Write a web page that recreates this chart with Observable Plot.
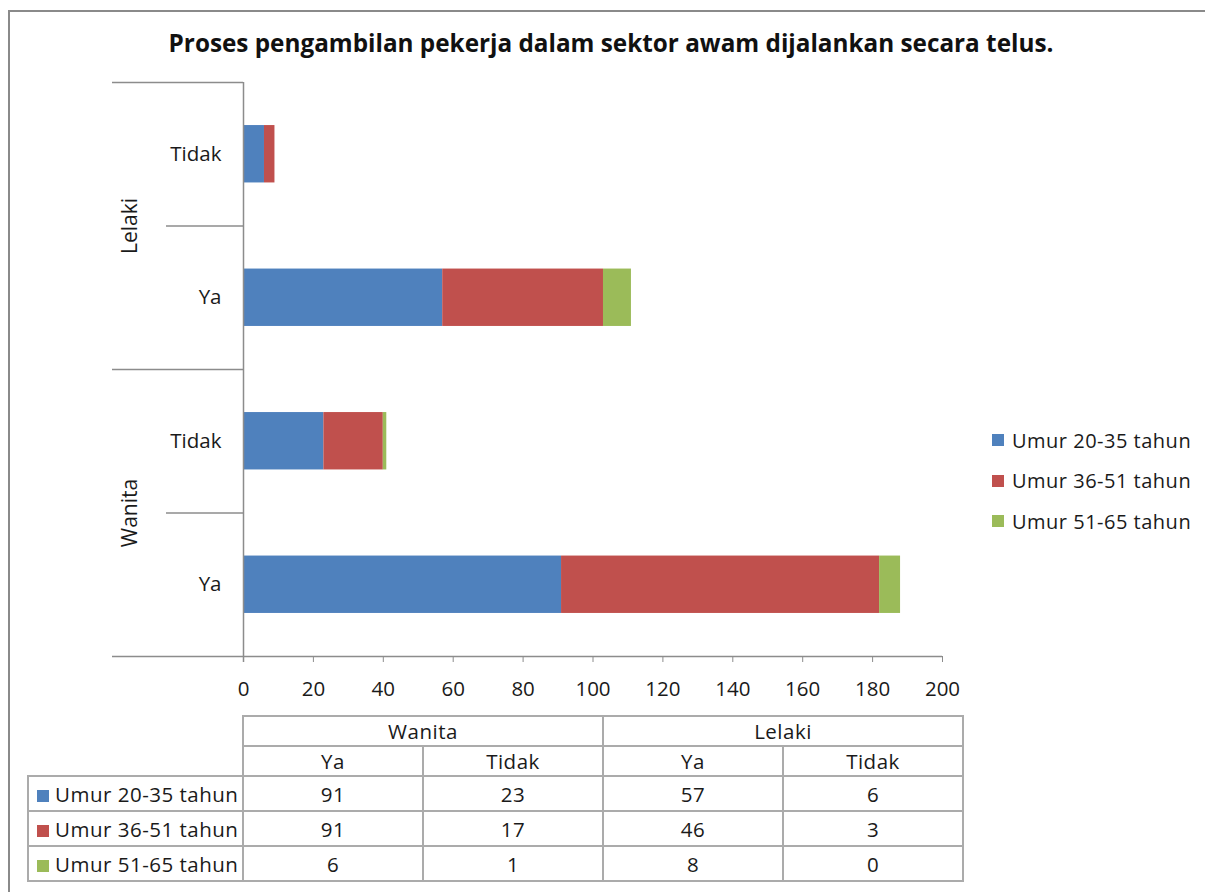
<!DOCTYPE html>
<html>
<head>
<meta charset="utf-8">
<script src="https://cdn.jsdelivr.net/npm/d3@7"></script>
<script src="https://cdn.jsdelivr.net/npm/@observablehq/plot@0.6"></script>
<style>
  body { margin: 0; background: #fff; font-family: "Open Sans", sans-serif; color: #1a1a1a; }
  #frame { position: absolute; left: 8px; top: 10px; width: 1400px; height: 1000px;
           border-left: 2px solid #8a8a8a; border-top: 2px solid #8a8a8a; box-sizing: border-box; }
  #title { position: absolute; left: 0; top: 26px; width: 1222px; text-align: center;
           font-weight: 700; font-size: 24.3px; color: #111; }
  #chart { position: absolute; left: 0; top: 70px; }
  #chart text { fill: #1a1a1a; }
  #legend { position: absolute; left: 992px; top: 420px; font-size: 20px; letter-spacing: 0.5px; }
  #legend .item { display: flex; align-items: center; height: 40.5px; }
  #legend .sw { width: 12px; height: 12px; margin-right: 8px; }
  #table { position: absolute; left: 27px; top: 715px; border-collapse: collapse;
           font-size: 20.5px; letter-spacing: 0.5px; }
  #table td { border: 2px solid #ababab; text-align: center; padding: 0; }
  #table td.empty { border: none; border-right: 2px solid #ababab; border-bottom: 2px solid #ababab; }
  #table tr.h td { height: 28px; }
  #table tr.d td { height: 33px; }
  #table td.lab { text-align: left; padding-left: 8px; white-space: nowrap; }
  #table td.lab span.sw { display: inline-block; width: 12px; height: 12px; margin-right: 6px; vertical-align: 0px; }
</style>
</head>
<body>
<div id="frame"></div>
<div id="title"></div>
<div id="chart"></div>
<div id="legend"></div>
<table id="table"></table>
<script>
// ---- data ----
const title = "Proses pengambilan pekerja dalam sektor awam dijalankan secara telus.";
const colGroup  = ["Wanita", "Wanita", "Lelaki", "Lelaki"];
const colAnswer = ["Ya", "Tidak", "Ya", "Tidak"];
const groupNames = ["Wanita", "Lelaki"];
const seriesNames = ["Umur 20-35 tahun", "Umur 36-51 tahun", "Umur 51-65 tahun"];
const age20_35 = [91, 23, 57, 6];
const age36_51 = [91, 17, 46, 3];
const age51_65 = [6, 1, 8, 0];
const seriesColors = ["#4F81BD", "#C0504D", "#9BBB59"];
const xTicks = [0, 20, 40, 60, 80, 100, 120, 140, 160, 180, 200];

// ---- derived tables ----
const seriesValues = [age20_35, age36_51, age51_65];
const keys = colGroup.map((g, j) => `${g}|${colAnswer[j]}`);
const yDomain = keys.slice().reverse();
const rows = [];
seriesNames.forEach((s, k) => keys.forEach((key, j) => rows.push({key, series: s, value: seriesValues[k][j]})));

document.getElementById("title").textContent = title;

// ---- chart ----
const W = 1205, H = 635, mt = 12, mb = 49, ml = 243, mr = 263;
const step = (H - mt - mb) / yDomain.length;
const lineColor = "#8c8c8c";

const chart = Plot.plot({
  width: W, height: H,
  marginTop: mt, marginBottom: mb, marginLeft: ml, marginRight: mr,
  style: {fontFamily: "Open Sans, sans-serif", fontSize: "20.5px", color: lineColor, background: "transparent", overflow: "visible"},
  x: {domain: [0, 200], ticks: xTicks, tickSize: 6, tickPadding: 19, label: null, tickFormat: d => String(d)},
  y: {domain: yDomain, paddingInner: 0.6, paddingOuter: 0.3, round: false,
      tickSize: 0, tickPadding: 22, label: null, tickFormat: k => k.split("|")[1]},
  color: {domain: seriesNames, range: seriesColors},
  marks: [
    Plot.barX(rows, Plot.stackX({y: "key", x: "value", fill: "series", order: null})),
    // long separators (group boundaries)
    Plot.ruleY(yDomain.filter(k => k.endsWith("|Tidak")), {y: d => d, dy: -step / 2, x2: () => 0, insetLeft: -(ml - 112), stroke: lineColor, strokeWidth: 1.5}),
    // short separators (within group)
    Plot.ruleY(yDomain.filter(k => k.endsWith("|Ya")), {y: d => d, dy: -step / 2, x2: () => 0, insetLeft: -(ml - 166), stroke: lineColor, strokeWidth: 1.5}),
    // bottom axis line
    Plot.ruleY([yDomain[yDomain.length - 1]], {y: d => d, dy: step / 2, insetLeft: -(ml - 112), stroke: lineColor, strokeWidth: 1.5}),
    // vertical axis line
    Plot.ruleX([0], {x: d => d, insetBottom: -6, stroke: lineColor, strokeWidth: 1.5}),
    // group labels
    Plot.text(groupNames, {x: () => 0, y: g => `${g}|Ya`, dy: -step / 2, dx: -(ml - 130), rotate: -90, text: g => g, fontSize: 21, fill: "#1a1a1a"})
  ]
});
document.getElementById("chart").appendChild(chart);

// ---- legend ----
const legend = document.getElementById("legend");
seriesNames.forEach((s, k) => {
  const it = document.createElement("div");
  it.className = "item";
  it.innerHTML = `<span class="sw" style="background:${seriesColors[k]}"></span><span>${s}</span>`;
  legend.appendChild(it);
});

// ---- data table ----
const table = document.getElementById("table");
const colW = 180, labW = 216;
let html = `<tr class="h"><td class="empty" rowspan="2" style="width:${labW - 2}px"></td>`;
groupNames.forEach(g => { html += `<td colspan="2">${g}</td>`; });
html += `</tr><tr class="h">`;
colAnswer.forEach(a => { html += `<td style="width:${colW - 2}px">${a}</td>`; });
html += `</tr>`;
seriesNames.forEach((s, k) => {
  html += `<tr class="d"><td class="lab"><span class="sw" style="background:${seriesColors[k]}"></span>${s}</td>`;
  seriesValues[k].forEach(v => { html += `<td>${v}</td>`; });
  html += `</tr>`;
});
table.innerHTML = html;
</script>
</body>
</html>
